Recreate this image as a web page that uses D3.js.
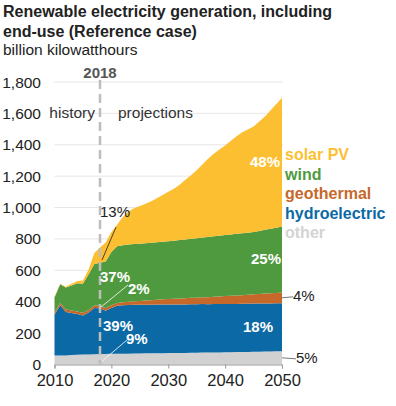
<!DOCTYPE html>
<html>
<head>
<meta charset="utf-8">
<script src="https://cdn.jsdelivr.net/npm/d3@7"></script>
<style>
  body { margin: 0; background: #fff; }
  svg { font-family: "Liberation Sans", Arial, sans-serif; }
</style>
</head>
<body>
<svg id="chart" width="396" height="406"></svg>
<script>
var years = d3.range(2010, 2051)
var other = [57, 58, 58, 60, 62, 63, 64, 65, 67, 67, 68, 68, 69, 69, 70, 70, 71, 71, 72, 72, 73,
  73, 74, 74, 75, 75, 76, 76, 77, 77, 78, 78, 79, 80, 80, 81, 82, 83, 83, 84, 85]
var hydro = [260, 319, 276, 268, 260, 250, 268, 295, 291, 276, 292, 306, 309, 310, 310, 310, 310, 310, 310, 310, 310,
  310, 309, 309, 309, 309, 309, 308, 308, 308, 308, 308, 307, 307, 307, 307, 307, 306, 306, 306, 306]
var geothermal = [15, 15, 16, 16, 16, 16, 16, 16, 16, 16, 17, 18, 19, 21, 23, 25, 27, 29, 31, 33, 35,
  36, 38, 39, 41, 42, 44, 45, 47, 48, 50, 52, 54, 55, 57, 59, 61, 63, 65, 66, 68]
var wind = [95, 119, 140, 160, 180, 185, 227, 265, 275, 298, 340, 361, 363, 364, 364, 365, 365, 366, 366, 367, 367,
  370, 372, 375, 376, 379, 380, 384, 385, 388, 389, 391, 393, 394, 396, 398, 401, 406, 411, 416, 421]
var solar = [4, 4, 6, 11, 14, 22, 30, 70, 97, 120, 128, 137, 180, 211, 228, 240, 252, 264, 281, 298, 315,
  331, 352, 380, 405, 432, 465, 498, 526, 549, 570, 596, 622, 644, 658, 672, 697, 722, 755, 788, 820]

var seriesKeys = ['other', 'hydroelectric', 'geothermal', 'wind', 'solar PV']
var seriesColors = ['#d1d1d1', '#0b6aa6', '#c7682b', '#4f9a3f', '#fdbf32']
var legendOrder = ['solar PV', 'wind', 'geothermal', 'hydroelectric', 'other']
var yTicks = [0, 200, 400, 600, 800, 1000, 1200, 1400, 1600, 1800]
var xTicks = [2010, 2020, 2030, 2040, 2050]
// share labels for 2018 and 2050
var share2018 = ['9%', '39%', '2%', '37%', '13%']
var share2050 = ['5%', '18%', '4%', '25%', '48%']

var rows = years.map((yr, i) => ({
  year: yr, 'other': other[i], 'hydroelectric': hydro[i], 'geothermal': geothermal[i],
  'wind': wind[i], 'solar PV': solar[i]
}))

var svg = d3.select('#chart')
var x = d3.scaleLinear().domain([2010, 2050]).range([54.5, 282])
var y = d3.scaleLinear().domain([0, 1800]).range([364.5, 82])
var color = d3.scaleOrdinal().domain(seriesKeys).range(seriesColors)

svg.append('text').attr('x', 3).attr('y', 17)
  .style('font-weight', 'bold').style('font-size', '16px').attr('fill', '#222')
  .text('Renewable electricity generation, including')
svg.append('text').attr('x', 3).attr('y', 37)
  .style('font-weight', 'bold').style('font-size', '16px').attr('fill', '#222')
  .text('end-use (Reference case)')
svg.append('text').attr('x', 3).attr('y', 55)
  .style('font-size', '15.5px').attr('fill', '#222')
  .text('billion kilowatthours')

// grid + y labels
svg.append('g').selectAll('line').data(yTicks.slice(1)).enter().append('line')
  .attr('x1', x(2010)).attr('x2', x(2050) + 1)
  .attr('y1', d => y(d)).attr('y2', d => y(d))
  .attr('stroke', '#e6e6e6').attr('stroke-width', 1)

svg.append('g').selectAll('text').data(yTicks).enter().append('text')
  .attr('x', 41).attr('y', d => y(d) + 5.5)
  .attr('text-anchor', 'end').style('font-size', '15.5px').attr('fill', '#222')
  .text(d => d3.format(',')(d))

var stack = d3.stack().keys(seriesKeys)
var layers = stack(rows)
var area = d3.area()
  .x(d => x(d.data.year))
  .y0(d => y(d[0]))
  .y1(d => y(d[1]))

svg.append('g').selectAll('path').data(layers).enter().append('path')
  .attr('d', area)
  .attr('fill', d => color(d.key))

// x axis
var xAxis = d3.axisBottom(x).tickValues(xTicks).tickSize(4).tickFormat(d3.format('d'))
var gx = svg.append('g').attr('transform', 'translate(0,364.5)').call(xAxis)
gx.select('.domain').attr('stroke', '#999')
gx.selectAll('.tick line').attr('stroke', '#999')
gx.selectAll('.tick text').style('font-size', '16.5px').attr('fill', '#222')
  .attr('y', 10).attr('font-family', null)

// 2018 divider
svg.append('line').attr('x1', x(2018)).attr('x2', x(2018))
  .attr('y1', 80).attr('y2', 364)
  .attr('stroke', '#bdbdbd').attr('stroke-width', 2.5).attr('stroke-dasharray', '9,5')
svg.append('text').attr('x', x(2018)).attr('y', 78).attr('text-anchor', 'middle')
  .style('font-weight', 'bold').style('font-size', '15px').attr('fill', '#555').text('2018')
svg.append('text').attr('x', x(2018) - 5).attr('y', 118).attr('text-anchor', 'end')
  .style('font-size', '15.5px').attr('fill', '#333').text('history')
svg.append('text').attr('x', x(2018) + 18).attr('y', 118)
  .style('font-size', '15.5px').attr('fill', '#333').text('projections')

// legend
svg.append('g').selectAll('text').data(legendOrder).enter().append('text')
  .attr('x', 285).attr('y', (d, i) => 160 + i * 19.6)
  .style('font-weight', 'bold').style('font-size', '16px')
  .attr('fill', d => d === 'other' ? '#d3d3d3' : color(d))
  .text(d => d)

// share labels
function mid(key, i) {
  var l = layers[seriesKeys.indexOf(key)][i]
  return y((l[0] + l[1]) / 2)
}
var i50 = years.indexOf(2050)
var i18 = years.indexOf(2018)

var whiteLabels = [
  { t: share2050[4], x: x(2050) - 2, y: mid('solar PV', i50) + 5, a: 'end' },
  { t: share2050[3], x: x(2050) - 1, y: mid('wind', i50) + 5, a: 'end' },
  { t: share2050[1], x: x(2050) - 9, y: mid('hydroelectric', i50) + 5, a: 'end' },
  { t: share2018[3], x: x(2018), y: 282, a: 'start' },
  { t: share2018[2], x: x(2018) + 28, y: 294, a: 'start' },
  { t: share2018[1], x: x(2018) + 3, y: 331, a: 'start' },
  { t: share2018[0], x: x(2018) + 26, y: 344, a: 'start' }
]
svg.append('g').selectAll('text').data(whiteLabels).enter().append('text')
  .attr('x', d => d.x).attr('y', d => d.y).attr('text-anchor', d => d.a)
  .style('font-weight', 'bold').style('font-size', '15px').attr('fill', '#fff')
  .text(d => d.t)

svg.append('line').attr('x1', x(2018) + 28).attr('y1', 285)
  .attr('x2', x(2018) + 1).attr('y2', y(other[i18] + hydro[i18] + geothermal[i18] / 2))
  .attr('stroke', '#fff').attr('stroke-width', 0.8)
svg.append('line').attr('x1', x(2018) + 27).attr('y1', 340)
  .attr('x2', x(2018) + 2).attr('y2', y(other[i18] / 2) + 2)
  .attr('stroke', '#fff').attr('stroke-width', 0.8)

svg.append('text').attr('x', x(2018)).attr('y', 217)
  .style('font-size', '15px').attr('fill', '#222').text(share2018[4])
svg.append('line').attr('x1', x(2021) - 1).attr('y1', 227)
  .attr('x2', x(2018) + 2).attr('y2', y(other[i18] + hydro[i18] + geothermal[i18] + wind[i18] + solar[i18] / 2) + 5)
  .attr('stroke', '#222').attr('stroke-width', 0.8)

svg.append('line').attr('x1', x(2050)).attr('y1', mid('geothermal', i50))
  .attr('x2', x(2050) + 11).attr('y2', mid('geothermal', i50) - 1)
  .attr('stroke', '#555').attr('stroke-width', 0.8)
svg.append('text').attr('x', x(2050) + 11).attr('y', mid('geothermal', i50) + 3)
  .style('font-size', '15px').attr('fill', '#222').text(share2050[2])
svg.append('line').attr('x1', x(2050)).attr('y1', mid('other', i50))
  .attr('x2', x(2050) + 14).attr('y2', mid('other', i50) + 1)
  .attr('stroke', '#555').attr('stroke-width', 0.8)
svg.append('text').attr('x', x(2050) + 14).attr('y', mid('other', i50) + 5)
  .style('font-size', '15px').attr('fill', '#222').text(share2050[0])
</script>
</body>
</html>
